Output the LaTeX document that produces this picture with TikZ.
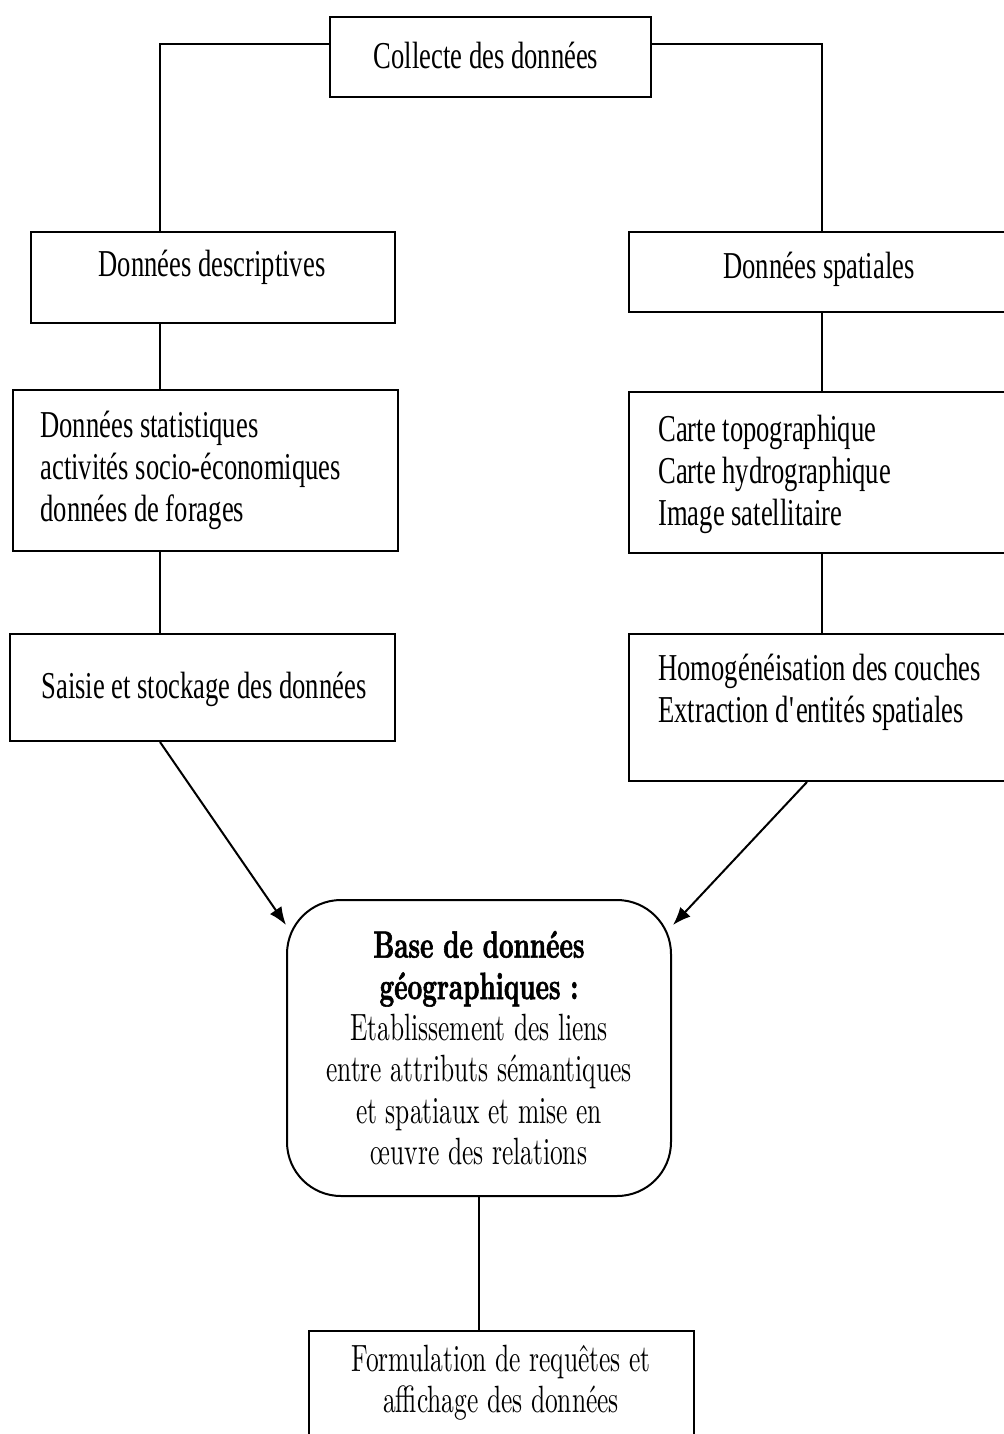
\documentclass[tikz,border=0pt]{standalone}
\usepackage{fontspec}
\setmainfont{Liberation Serif}[FakeStretch=0.70]
\newfontfamily\lmfont{lmroman10}[Extension=.otf,UprightFont=*-regular,BoldFont=*-bold,BoldFeatures={FakeBold=1.5},FakeStretch=0.67]
\usetikzlibrary{arrows.meta}

\definecolor{linecolor}{RGB}{0,0,0}
\newcommand{\straightquote}{\XeTeXglyph\XeTeXcharglyph"27\relax}

\tikzset{
  box/.style={draw=linecolor, line width=1pt, fill=white, inner sep=0pt},
  roundbox/.style={box, rounded corners=27pt},
  boxtext/.style={inner sep=0pt, font=\fontsize{19}{21}\selectfont},
  basetext/.style={inner sep=0pt, align=center, font=\lmfont\fontsize{19}{20.7}\selectfont},
  link/.style={draw=linecolor, line width=1pt},
  feed/.style={link, -{Latex[length=9pt,width=7pt]}},
}

\begin{document}
\begin{tikzpicture}[x=0.5pt,y=-0.5pt]
        \useasboundingbox (0,0) rectangle (1003,1434);

        % Draw the boxes
        \node[box, minimum width=160.5pt, minimum height=40pt] (collecte) at (490.5,57) {};
        \node[box, minimum width=182pt, minimum height=45.5pt] (desc) at (213,277.5) {};
        \node[box, minimum width=190.5pt, minimum height=40pt] (spat) at (819.5,272) {};
        \node[box, minimum width=192.5pt, minimum height=80.5pt] (stat) at (205.5,470.5) {};
        \node[box, minimum width=190.5pt, minimum height=80.5pt] (carte) at (819.5,472.5) {};
        \node[box, minimum width=192.5pt, minimum height=53.5pt] (saisie) at (202.5,687.5) {};
        \node[box, minimum width=190.5pt, minimum height=73.5pt] (homog) at (819.5,707.5) {};
        \node[roundbox, minimum width=192pt, minimum height=148pt] (base) at (479,1048) {};
        \node[box, minimum width=192.5pt, minimum height=59.5pt] (formul) at (501.5,1390.5) {};

        % Add the texts
        \node[boxtext] (collecte-txt) at (486,55) {Collecte des données};
        \node[boxtext] (desc-txt) at (212,267) {Données descriptives};
        \node[boxtext] (spat-txt) at (819,269) {Données spatiales};
        \node[boxtext, align=left, anchor=west] (stat-txt) at (40,470)
          {Données statistiques\\activités socio-économiques\\données de forages};
        \node[boxtext, align=left, anchor=west] (carte-txt) at (658,474)
          {Carte topographique\\Carte hydrographique\\Image satellitaire};
        \node[boxtext] (saisie-txt) at (204,689) {Saisie et stockage des données};
        \node[boxtext, align=left, anchor=west] (homog-txt) at (658,692)
          {Homogénéisation des couches\\Extraction d\straightquote entités spatiales};
        \node[basetext] (base-txt) at (479,1048)
          {\textbf{Base de données}\\\textbf{géographiques :}\\Etablissement des liens\\entre attributs sémantiques\\et spatiaux et mise en\\œuvre des relations};
        \node[basetext] (formul-txt) at (501,1383)
          {Formulation de requêtes et\\affichage des données};

        % Draw the connecting lines
        \coordinate (leftcol) at (160,0);
        \coordinate (rightcol) at (822,0);
        \draw[link] ([yshift=6.5pt]collecte.west) -| (desc.north -| leftcol);
        \draw[link] ([yshift=6.5pt]collecte.east) -| (spat.north -| rightcol);
        \draw[link] (desc.south -| leftcol) -- (stat.north -| leftcol);
        \draw[link] (stat.south -| leftcol) -- (saisie.north -| leftcol);
        \draw[link] (spat.south -| rightcol) -- (carte.north -| rightcol);
        \draw[link] (carte.south -| rightcol) -- (homog.north -| rightcol);

        % Arrows into the base
        \coordinate (tipleft) at (286,925);
        \coordinate (tipright) at (673,925);
        \coordinate (homogout) at (807,0);
        \draw[feed] (saisie.south -| leftcol) -- (tipleft);
        \draw[feed] (homog.south -| homogout) -- (tipright);
        \draw[link] (base.south) -- (base.south |- formul.north);
    \end{tikzpicture}
\end{document}
